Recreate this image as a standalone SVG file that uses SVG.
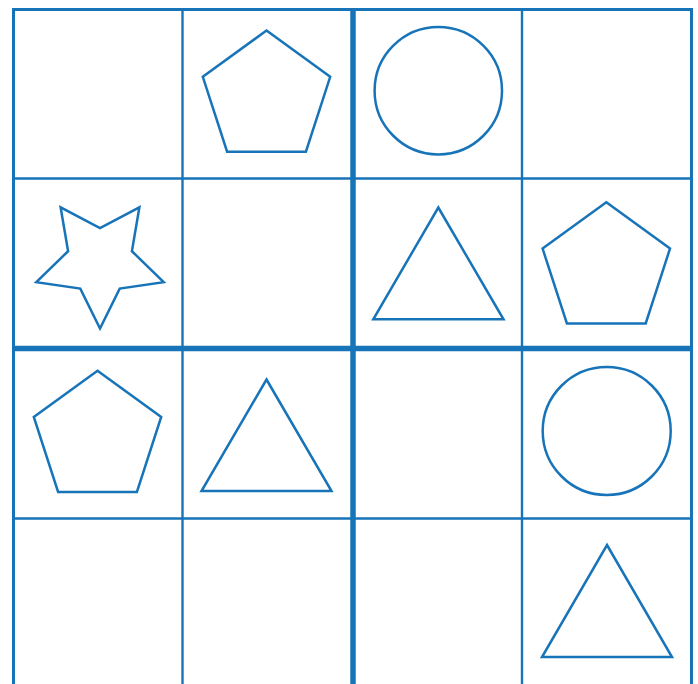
<svg xmlns="http://www.w3.org/2000/svg" width="698" height="684" viewBox="0 0 698 684">
<style>
.g{fill:none;stroke:#1874b9;stroke-linecap:butt}
.thin{stroke-width:2.4}
.thick{stroke-width:5.5}
.outer{stroke-width:3}
.s{fill:none;stroke:#1874b9;stroke-width:2.5;stroke-linejoin:miter}
</style>
<rect width="698" height="684" fill="#ffffff"/>
<g id="grid" class="g">
<line class="thin" x1="182.5" y1="9.5" x2="182.5" y2="687.5"/>
<line class="thin" x1="522" y1="9.5" x2="522" y2="687.5"/>
<line class="thin" x1="13.5" y1="178.5" x2="691.5" y2="178.5"/>
<line class="thin" x1="13.5" y1="518.5" x2="691.5" y2="518.5"/>
<line class="thick" x1="353" y1="9.5" x2="353" y2="687.5"/>
<line class="thick" x1="13.5" y1="348.5" x2="691.5" y2="348.5"/>
<rect class="outer" x="13.5" y="9.5" width="678" height="678"/>
</g>
<g id="pentagon-r0c1"><polygon class="s" points="266.5,30.5 330.2,76.8 305.9,151.7 227.1,151.7 202.8,76.8"/></g>
<g id="circle-r0c2"><circle class="s" cx="438.3" cy="90.7" r="63.7"/></g>
<g id="star-r1c0"><polygon class="s" points="100,328.5 119.7,288.6 163.7,282.2 131.9,251.2 139.4,207.3 100,228 60.6,207.3 68.1,251.2 36.3,282.2 80.3,288.6"/></g>
<g id="triangle-r1c2"><polygon class="s" points="438.3,207.5 503.5,319.3 373.3,319.3"/></g>
<g id="pentagon-r1c3"><polygon class="s" points="606.3,202.3 670,248.6 645.7,323.5 566.9,323.5 542.6,248.6"/></g>
<g id="pentagon-r2c0"><polygon class="s" points="97.5,370.7 161.2,417 136.9,491.9 58.1,491.9 33.8,417"/></g>
<g id="triangle-r2c1"><polygon class="s" points="266.5,379.5 331.5,491 201.5,491"/></g>
<g id="circle-r2c3"><circle class="s" cx="606.7" cy="431" r="64"/></g>
<g id="triangle-r3c3"><polygon class="s" points="607,545 672,657 542,657"/></g>
</svg>
